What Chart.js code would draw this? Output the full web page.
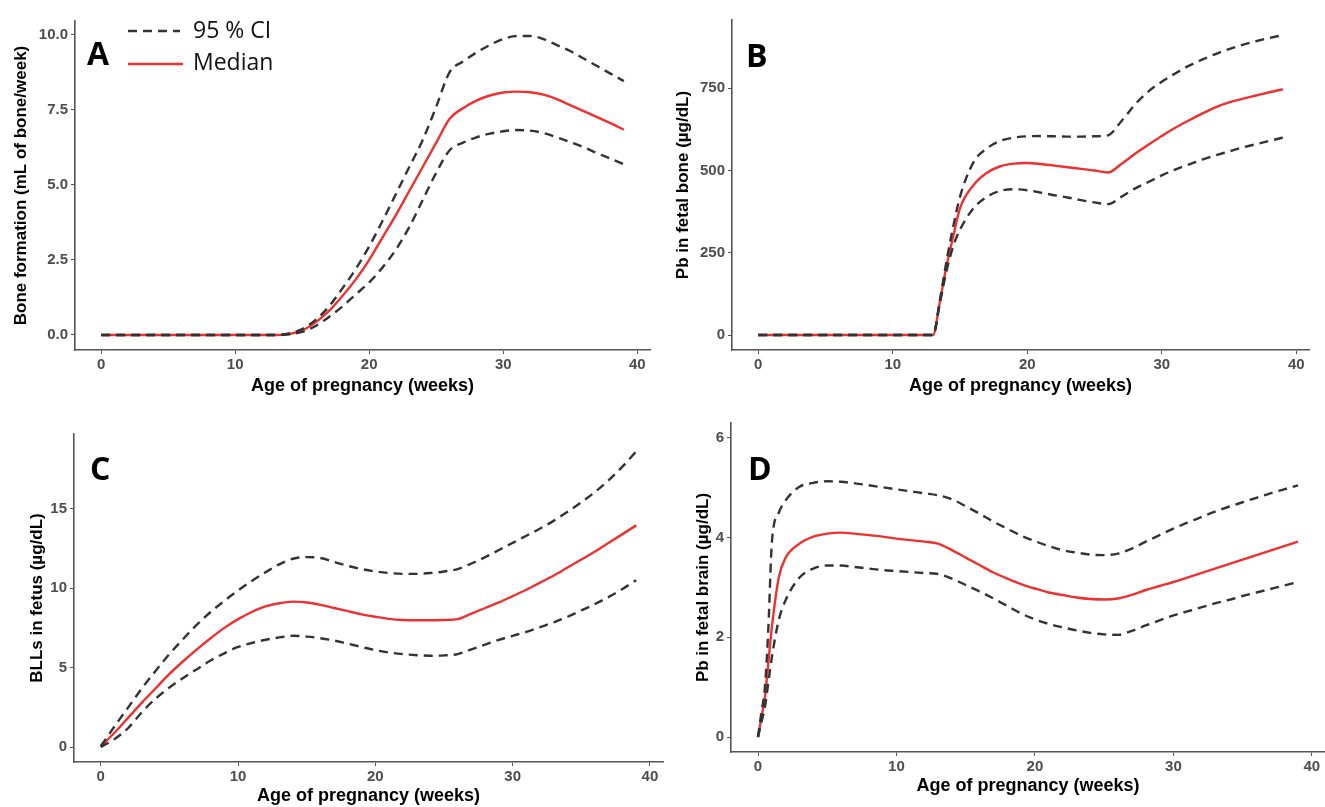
<!DOCTYPE html>
<html>
<head>
<meta charset="utf-8">
<script src="https://cdn.jsdelivr.net/npm/chart.js@4/dist/chart.umd.min.js"></script>
<style>
  html, body { margin: 0; padding: 0; background: #fff; }
  #wrap { position: relative; width: 1325px; height: 807px; overflow: hidden; }
  canvas { position: absolute; }
</style>
</head>
<body>
<div id="wrap">
  <canvas id="chartA" width="660" height="400" style="left:0;top:0"></canvas>
  <canvas id="chartB" width="665" height="400" style="left:660px;top:0"></canvas>
  <canvas id="chartC" width="670" height="407" style="left:0;top:400px"></canvas>
  <canvas id="chartD" width="665" height="407" style="left:660px;top:400px"></canvas>
</div>
<script>
// ---- Data ----
const xTicks = [0, 10, 20, 30, 40];

// A: bone formation (mL of bone/week)
const weeksA = [0,1,2,3,4,5,6,7,8,9,10,11,12,13,14,15,16,17,18,19,20,21,22,23,24,25,26,27,28,29,30,31,32,33,34,35,36,37,38,39];
const medianA = [0,0,0,0,0,0,0,0,0,0,0,0,0,0,0.03,0.15,0.42,0.8,1.3,1.85,2.5,3.25,4.0,4.8,5.6,6.4,7.2,7.55,7.8,7.97,8.07,8.1,8.08,8.0,7.85,7.65,7.45,7.25,7.05,6.83];
const upperA = [0,0,0,0,0,0,0,0,0,0,0,0,0,0,0.05,0.2,0.5,0.95,1.55,2.2,2.95,3.8,4.7,5.6,6.5,7.6,8.75,9.1,9.4,9.65,9.85,9.95,9.95,9.85,9.65,9.45,9.2,8.95,8.7,8.45];
const lowerA = [0,0,0,0,0,0,0,0,0,0,0,0,0,0,0.02,0.1,0.3,0.6,0.95,1.35,1.75,2.25,2.85,3.6,4.5,5.4,6.15,6.4,6.58,6.7,6.78,6.82,6.8,6.72,6.58,6.42,6.25,6.05,5.87,5.68];
const yTicksA = [0, 2.5, 5, 7.5, 10];

// B: Pb in fetal bone (µg/dL)
const weeksB = [0,1,2,3,4,5,6,7,8,9,10,11,12,13,13.5,14,14.5,15,16,17,18,19,20,21,22,23,24,25,26,27,28,29,30,31,32,33,34,35,36,37,38,39];
const medianB = [0,0,0,0,0,0,0,0,0,0,0,0,0,0,100,210,300,385,455,493,513,521,523,520,515,510,505,500,494,520,550,578,605,630,652,673,692,707,718,728,738,747];
const upperB = [0,0,0,0,0,0,0,0,0,0,0,0,0,0,105,225,330,420,525,567,590,600,604,605,604,603,603,604,607,650,700,740,770,795,818,837,854,869,882,893,903,912];
const lowerB = [0,0,0,0,0,0,0,0,0,0,0,0,0,0,95,195,270,320,385,420,438,443,440,433,425,418,410,403,398,420,445,465,485,503,518,533,546,558,570,580,590,600];
const yTicksB = [0, 250, 500, 750];

// C: BLLs in fetus (µg/dL)
const weeksC = [0,1,2,3,4,5,6,7,8,9,10,11,12,13,14,15,16,17,18,19,20,21,22,23,24,25,26,27,28,29,30,31,32,33,34,35,36,37,38,39];
const medianC = [0.05,0.9,1.85,2.8,3.7,4.6,5.4,6.15,6.85,7.5,8.05,8.5,8.85,9.05,9.15,9.1,8.95,8.75,8.55,8.35,8.2,8.07,8.0,7.98,7.98,8.0,8.05,8.4,8.75,9.1,9.5,9.9,10.35,10.8,11.3,11.8,12.3,12.85,13.4,13.95];
const upperC = [0.05,1.3,2.5,3.7,4.8,5.85,6.8,7.7,8.5,9.2,9.85,10.45,11.0,11.5,11.85,11.95,11.9,11.65,11.4,11.2,11.05,10.95,10.9,10.9,10.95,11.05,11.2,11.55,11.95,12.4,12.85,13.3,13.75,14.25,14.8,15.4,16.05,16.8,17.65,18.6];
const lowerC = [0,0.5,1.2,2.2,3.05,3.75,4.35,4.9,5.45,5.9,6.3,6.55,6.75,6.9,7.0,6.95,6.85,6.7,6.5,6.3,6.1,5.95,5.85,5.78,5.75,5.77,5.85,6.15,6.45,6.75,7.0,7.25,7.55,7.85,8.2,8.6,9.0,9.45,9.95,10.5];
const yTicksC = [0, 5, 10, 15];

// D: Pb in fetal brain (µg/dL)
const weeksD = [0,0.25,0.5,0.75,1,1.5,2,3,4,5,6,7,8,9,10,11,12,13,14,15,16,17,18,19,20,21,22,23,24,25,26,27,28,29,30,31,32,33,34,35,36,37,38,39];
const medianD = [0,0.4,0.8,1.5,2.2,3.2,3.6,3.88,4.02,4.08,4.1,4.08,4.05,4.02,3.98,3.95,3.92,3.88,3.75,3.6,3.45,3.3,3.18,3.07,2.98,2.9,2.85,2.8,2.77,2.76,2.78,2.85,2.95,3.03,3.11,3.2,3.29,3.38,3.47,3.56,3.65,3.74,3.83,3.92];
const upperD = [0,0.5,1.0,2.2,3.9,4.5,4.75,5.02,5.1,5.13,5.12,5.09,5.05,5.01,4.97,4.93,4.89,4.85,4.77,4.63,4.48,4.32,4.18,4.04,3.93,3.83,3.75,3.7,3.66,3.65,3.68,3.78,3.92,4.05,4.18,4.3,4.41,4.52,4.62,4.71,4.8,4.89,4.97,5.05];
const lowerD = [0,0.3,0.6,1.1,1.6,2.35,2.75,3.2,3.38,3.44,3.44,3.41,3.38,3.35,3.33,3.31,3.29,3.27,3.18,3.05,2.92,2.78,2.63,2.48,2.36,2.27,2.2,2.14,2.09,2.06,2.05,2.13,2.24,2.34,2.44,2.52,2.6,2.68,2.75,2.83,2.9,2.97,3.04,3.11];
const yTicksD = [0, 2, 4, 6];

const CI_COLOR = '#333333';
const MED_COLOR = '#f03030';
const DASH = [9, 6];
const LINE_W = 2.4;
const AXIS_COLOR = '#555555';
const SANS = '"Liberation Sans", Arial, sans-serif';

function pts(xs, ys) {
    return xs.map((x, i) => ({ x: x, y: ys[i] }));
}

// Panel letter + (optionally) the legend in panel A
const decorPlugin = {
    id: 'decor',
    afterDraw(chart, args, opts) {
        const ctx = chart.ctx;
        ctx.save();
        ctx.fillStyle = '#000';
        ctx.font = 'bold 32px "Open Sans", sans-serif';
        ctx.textBaseline = 'alphabetic';
        ctx.textAlign = 'left';
        ctx.fillText(opts.letter, opts.lx, opts.ly);

        if (opts.legend) {
            const ci = chart.data.datasets[0];
            const med = chart.data.datasets[2];
            ctx.lineWidth = LINE_W;
            // 95 % CI
            ctx.strokeStyle = ci.borderColor;
            ctx.setLineDash(ci.borderDash);
            ctx.beginPath();
            ctx.moveTo(128, 31);
            ctx.lineTo(180, 31);
            ctx.stroke();
            // Median
            ctx.setLineDash([]);
            ctx.strokeStyle = med.borderColor;
            ctx.beginPath();
            ctx.moveTo(128, 64);
            ctx.lineTo(183, 64);
            ctx.stroke();

            ctx.fillStyle = '#111';
            ctx.font = '23px "Open Sans", sans-serif';
            ctx.textBaseline = 'middle';
            ctx.fillText(ci.label, 193, 31);
            ctx.fillText(med.label, 193, 63);
        }
        ctx.restore();
    }
};

function makePanel(id, cfg) {
    const ctx = document.getElementById(id).getContext('2d');
    return new Chart(ctx, {
        type: 'line',
        data: {
            datasets: [
                {
                    label: '95 % CI',
                    data: pts(cfg.weeks, cfg.upper),
                    borderColor: CI_COLOR,
                    borderDash: DASH,
                    borderWidth: LINE_W,
                    pointRadius: 0,
                    cubicInterpolationMode: 'monotone',
                    fill: false
                },
                {
                    label: '95 % CI (lower)',
                    data: pts(cfg.weeks, cfg.lower),
                    borderColor: CI_COLOR,
                    borderDash: DASH,
                    borderWidth: LINE_W,
                    pointRadius: 0,
                    cubicInterpolationMode: 'monotone',
                    fill: false
                },
                {
                    label: 'Median',
                    data: pts(cfg.weeks, cfg.median),
                    borderColor: MED_COLOR,
                    borderWidth: LINE_W,
                    pointRadius: 0,
                    cubicInterpolationMode: 'monotone',
                    fill: false
                }
            ]
        },
        options: {
            responsive: false,
            animation: false,
            devicePixelRatio: 1,
            layout: { padding: cfg.pad },
            plugins: {
                legend: { display: false },
                tooltip: { enabled: false },
                decor: { letter: cfg.letter, lx: cfg.lx, ly: cfg.ly, legend: !!cfg.legend }
            },
            scales: {
                x: {
                    type: 'linear',
                    min: -1.95,
                    max: 40.95,
                    afterBuildTicks: (s) => { s.ticks = xTicks.map(v => ({ value: v })); },
                    afterFit: (s) => { s.height = cfg.xh; },
                    grid: { display: true, drawOnChartArea: false, drawTicks: true, tickLength: 4, color: AXIS_COLOR, lineWidth: 1 },
                    border: { display: true, color: AXIS_COLOR, width: 1.6 },
                    ticks: { color: '#4d4d4d', padding: 2, maxRotation: 0, font: { family: SANS, size: 15, weight: 'bold' } },
                    title: { display: true, text: 'Age of pregnancy (weeks)', color: '#000', padding: 0, font: { family: SANS, size: 18, weight: 'bold' } }
                },
                y: {
                    type: 'linear',
                    min: cfg.ymin,
                    max: cfg.ymax,
                    afterBuildTicks: (s) => { s.ticks = cfg.yTicks.map(v => ({ value: v })); },
                    afterFit: (s) => { s.width = cfg.yw; },
                    grid: { display: true, drawOnChartArea: false, drawTicks: true, tickLength: 4, color: AXIS_COLOR, lineWidth: 1 },
                    border: { display: true, color: AXIS_COLOR, width: 1.6 },
                    ticks: {
                        color: '#4d4d4d', padding: 3,
                        font: { family: SANS, size: 15, weight: 'bold' },
                        callback: (v) => cfg.fmt ? v.toFixed(1) : String(v)
                    },
                    title: { display: true, text: cfg.yTitle, color: '#000', padding: 0, font: { family: SANS, size: 17, weight: 'bold' } }
                }
            }
        },
        plugins: [decorPlugin]
    });
}

makePanel('chartA', {
    weeks: weeksA, median: medianA, upper: upperA, lower: lowerA,
    yTicks: yTicksA, ymin: -0.5, ymax: 10.45, fmt: true,
    yTitle: 'Bone formation (mL of bone/week)',
    pad: { left: 11, top: 21, right: 10, bottom: 3 }, yw: 64, xh: 47,
    letter: 'A', lx: 87, ly: 65, legend: true
});

makePanel('chartB', {
    weeks: weeksB, median: medianB, upper: upperB, lower: lowerB,
    yTicks: yTicksB, ymin: -45.6, ymax: 957.6,
    yTitle: 'Pb in fetal bone (µg/dL)',
    pad: { left: 13, top: 20, right: 16, bottom: 3 }, yw: 59, xh: 47,
    letter: 'B', lx: 86, ly: 67
});

makePanel('chartC', {
    weeks: weeksC, median: medianC, upper: upperC, lower: lowerC,
    yTicks: yTicksC, ymin: -0.94, ymax: 19.7,
    yTitle: 'BLLs in fetus (µg/dL)',
    pad: { left: 27, top: 34, right: 7, bottom: 0 }, yw: 47, xh: 45,
    letter: 'C', lx: 90, ly: 80
});

makePanel('chartD', {
    weeks: weeksD, median: medianD, upper: upperD, lower: lowerD,
    yTicks: yTicksD, ymin: -0.3, ymax: 6.3,
    yTitle: 'Pb in fetal brain (µg/dL)',
    pad: { left: 33, top: 23, right: 0, bottom: 10 }, yw: 38, xh: 45,
    letter: 'D', lx: 88, ly: 80
});
</script>
</body>
</html>
